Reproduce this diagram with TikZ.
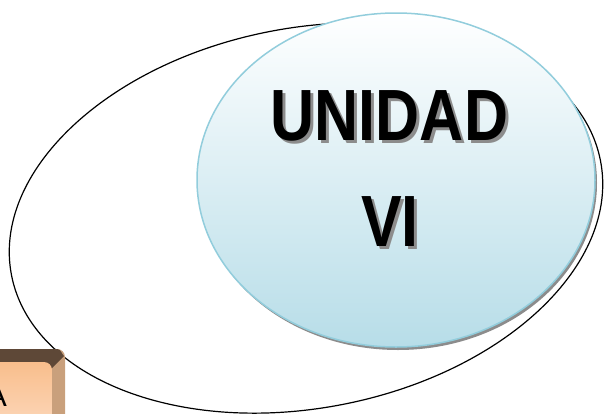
\documentclass[tikz,border=0pt]{standalone}
\usepackage{fontspec}
\setmainfont{Liberation Sans}
\usetikzlibrary{shapes.geometric,shadows}
\definecolor{ringblue}{HTML}{92CDDC}
\definecolor{fillblue}{HTML}{B7DDE8}
\definecolor{bevdark}{HTML}{5E4837}
\definecolor{bevtan}{HTML}{C9A07C}
\definecolor{facetop}{HTML}{F9BE8C}
\definecolor{facebot}{HTML}{FCDCC3}
\tikzset{
  bigtext/.style={font=\bfseries\fontsize{72.6}{80}\selectfont, inner sep=0pt, anchor=base, xscale=0.84},
  shadowtext/.style={bigtext, text=black!45},
  outerring/.style={draw=black, line width=1.2pt},
  bluering/.style={ellipse, draw=ringblue, line width=1.5pt, top color=white, bottom color=fillblue,
     minimum width=398pt, minimum height=334pt, inner sep=0pt,
     drop shadow={shadow xshift=2pt, shadow yshift=-3pt, fill=black!45, opacity=1}}
}
\begin{document}
\begin{tikzpicture}[x=1pt,y=-1pt]
\useasboundingbox (0,0) rectangle (605,413);
\clip (0,0) rectangle (605,413);
\fill[white] (0,0) rectangle (605,413);
% outer ellipse
\coordinate (oc) at (306,218);
\draw[outerring, rotate around={11:(oc)}] (oc) ellipse [x radius=300, y radius=190];
% blue ellipse
\node[bluering] (unidad) at (396,180) {};
% text with shadow
\node[shadowtext] (t1s) at (392.5,143) {UNIDAD};
\node[bigtext] (t1) at (389.5,140) {UNIDAD};
\node[shadowtext] (t2s) at (393,249) {VI};
\node[bigtext] (t2) at (390,246) {VI};
% bottom-left bevelled box
\fill[bevtan, rounded corners=8pt] (-30,349) rectangle (65,440);
\fill[bevdark] (-30,349) -- (57,349) to[out=0,in=135] (64,356) -- (52,368) -- (-30,362) -- cycle;
\shade[top color=facetop, bottom color=facebot, rounded corners=8pt] (-30,362) rectangle (52,440);
\node[font=\fontsize{30}{34}\selectfont, anchor=base east, inner sep=0pt] (lbl) at (7,406) {A};
\end{tikzpicture}
\end{document}
